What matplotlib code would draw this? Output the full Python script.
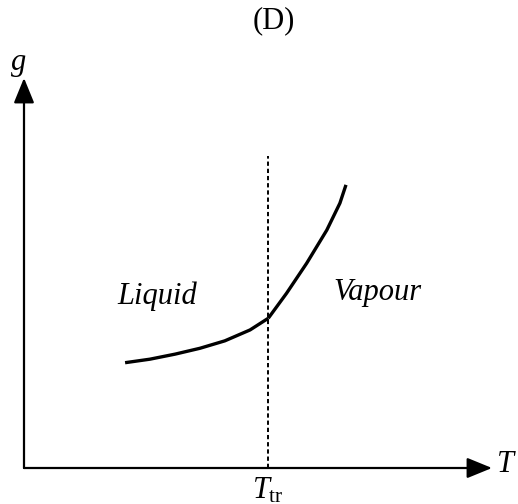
"""Gibbs free energy g against temperature T around the triple point (sketch D)."""

import matplotlib
matplotlib.use("Agg")
import matplotlib.pyplot as plt

plt.rcParams["font.family"] = ["Liberation Serif", "DejaVu Serif"]
plt.rcParams["mathtext.fontset"] = "custom"
plt.rcParams["mathtext.rm"] = "Liberation Serif"
plt.rcParams["mathtext.it"] = "Liberation Serif:italic"

# --- data (axis units 0..1, origin at the corner of the axes) ---
liquid_T = [0.216, 0.269, 0.323, 0.376, 0.429, 0.483, 0.522]
liquid_g = [0.270, 0.279, 0.292, 0.307, 0.326, 0.354, 0.384]
vapour_T = [0.522, 0.561, 0.604, 0.647, 0.675, 0.688]
vapour_g = [0.384, 0.448, 0.525, 0.610, 0.679, 0.726]
T_tr = 0.522
dash_top = 0.80
phase_labels = ["Liquid", "Vapour"]
phase_label_pos = [(0.285, 0.44), (0.755, 0.45)]


def main():
    fig = plt.figure(figsize=(5.18, 5.04), dpi=100)
    # axes box: left edge = g axis, bottom edge = T axis, top/right = arrow tips
    ax = fig.add_axes([24 / 518, 36 / 504, 468 / 518, 390 / 504])
    ax.set_xlim(0, 1)
    ax.set_ylim(0, 1)
    ax.axis("off")

    arrow = dict(arrowstyle="-|>,head_length=1.1,head_width=0.45",
                 color="black", lw=1.6, shrinkA=0, shrinkB=0,
                 mutation_scale=14)
    ax.annotate("", xy=(1, 0), xytext=(0, 0), arrowprops=arrow,
                annotation_clip=False)
    ax.annotate("", xy=(0, 1), xytext=(0, 0), arrowprops=arrow,
                annotation_clip=False)

    ax.plot([T_tr, T_tr], [0, dash_top], color="black", lw=1.4,
            ls=(0, (2.2, 1.5)))

    ax.plot(liquid_T, liquid_g, color="black", lw=2.4,
            solid_capstyle="butt", solid_joinstyle="round")
    ax.plot(vapour_T, vapour_g, color="black", lw=2.4,
            solid_capstyle="butt", solid_joinstyle="round")

    for text, (x, y) in zip(phase_labels, phase_label_pos):
        ax.text(x, y, text, style="italic", fontsize=22,
                ha="center", va="center")

    ax.text(-0.011, 1.003, "g", style="italic", fontsize=22,
            ha="center", va="bottom", clip_on=False)
    ax.text(1.01, 0.01, "T", style="italic", fontsize=22,
            ha="left", va="center", clip_on=False)
    ax.text(T_tr, -0.02, r"$T_{\mathrm{tr}}$", fontsize=22,
            ha="center", va="top", clip_on=False)

    fig.text(274 / 518, 1 - 21 / 504, "(D)", fontsize=22,
             ha="center", va="center")

    fig.savefig("out.png", dpi=100)


if __name__ == "__main__":
    main()
